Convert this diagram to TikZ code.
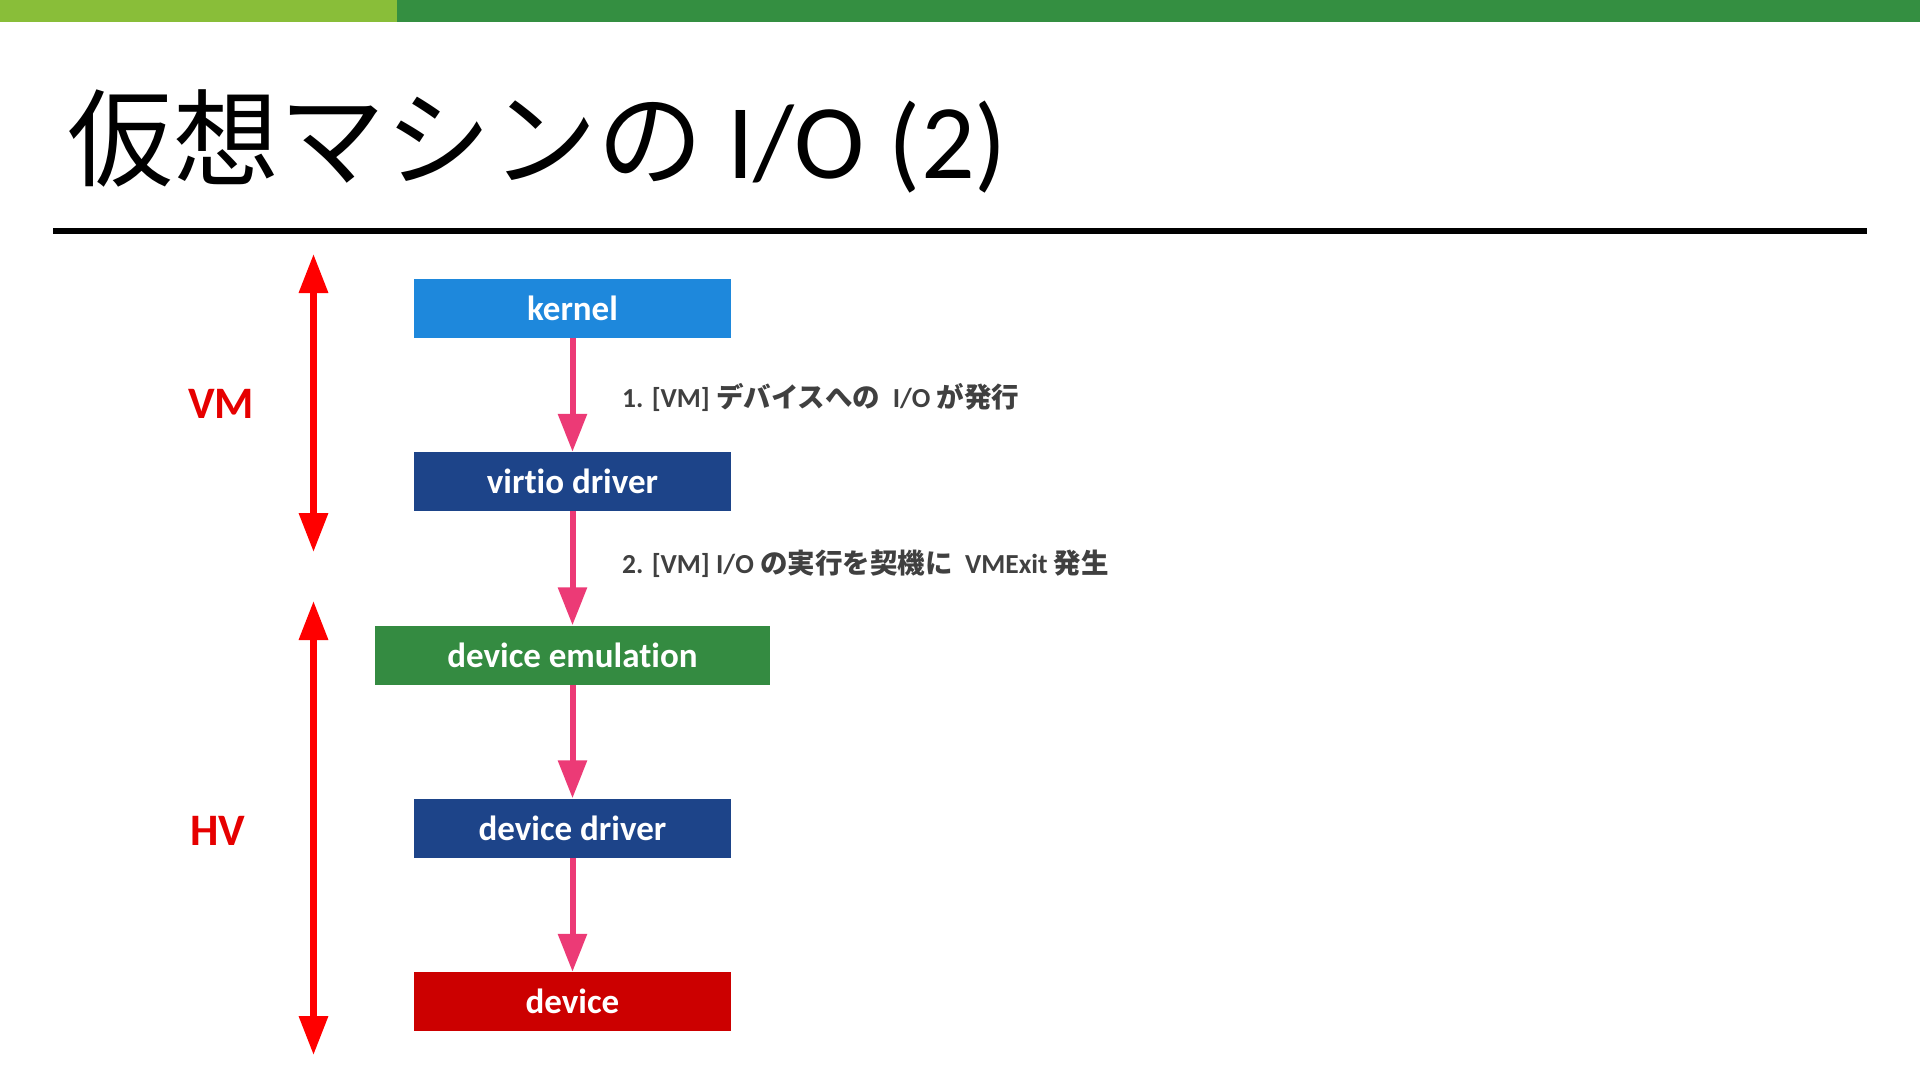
\documentclass[tikz,border=0pt]{standalone}
\usepackage{fontspec}
\setmainfont{Carlito}[Ligatures={NoCommon}]
\newfontfamily\cjk{Noto Sans CJK JP}
\usetikzlibrary{arrows.meta}
\definecolor{lgreen}{RGB}{137,190,57}
\definecolor{dgreen}{RGB}{52,143,65}
\definecolor{kblue}{RGB}{30,136,220}
\definecolor{dblue}{RGB}{29,68,137}
\definecolor{egreen}{RGB}{52,139,65}
\definecolor{dred}{RGB}{204,0,0}
\definecolor{pinkarr}{RGB}{236,58,118}
\definecolor{lblred}{RGB}{230,0,0}
\definecolor{stepgray}{RGB}{64,64,64}
\begin{document}
\begin{tikzpicture}[x=1pt,y=-1pt,
  boxnode/.style={minimum width=317pt, minimum height=59pt, inner sep=0pt, text=white,
    font=\fontsize{35}{40}\selectfont\bfseries},
  parrow/.style={pinkarr, line width=6pt, -{Triangle[length=38pt,width=28pt]}},
  rarrow/.style={red, line width=6.5pt, {Triangle[length=39pt,width=28pt]}-{Triangle[length=39pt,width=28pt]}},
  sidelabel/.style={anchor=base, inner sep=0pt, text=lblred, font=\fontsize{45}{50}\selectfont\bfseries},
  steplabel/.style={anchor=base west, inner sep=0pt, text=stepgray, font=\fontsize{27.5}{32}\selectfont\bfseries}]
\useasboundingbox (0,0) rectangle (1920,1081);
% header bar
\fill[lgreen] (0,0) rectangle (397,22);
\fill[dgreen] (397,0) rectangle (1920,22);
% title
\node[anchor=base west, inner sep=0pt, font=\fontsize{106}{120}\selectfont] (title) at (67,178)
  {{\cjk 仮想マシンの} I/O (2)};
\fill[black] (53,228) rectangle (1867,234);
% boxes
\node[boxnode, fill=kblue] (kernel) at (572.5,308.5) {kernel};
\node[boxnode, fill=dblue] (virtio) at (572.5,481.5) {virtio driver};
\node[boxnode, fill=egreen, minimum width=395pt] (emul) at (572.5,655) {device emulation};
\node[boxnode, fill=dblue] (ddrv) at (572.5,828) {device driver};
\node[boxnode, fill=dred] (dev) at (572.5,1001.5) {device};
% flow arrows
\draw[parrow] (kernel.south) -- (virtio.north);
\draw[parrow] (virtio.south) -- (emul.north);
\draw[parrow] (emul.south) -- (ddrv.north);
\draw[parrow] (ddrv.south) -- (dev.north);
% side ranges
\coordinate (vmtop) at (313.5,254);
\coordinate (vmbot) at (313.5,552);
\coordinate (hvtop) at (313.5,601);
\coordinate (hvbot) at (313.5,1055);
\draw[rarrow] (vmtop) -- (vmbot);
\draw[rarrow] (hvtop) -- (hvbot);
\node[sidelabel] (vm) at (221,418) {VM};
\node[sidelabel] (hv) at (217.5,845) {HV};
% step labels
\node[steplabel] (s1) at (622,407) {1. [VM] {\cjk デバイスへの}\ \ I/O {\cjk が発行}};
\node[steplabel] (s2) at (622,573) {2. [VM] I/O {\cjk の実行を契機に}\ \ VMExit {\cjk 発生}};
\end{tikzpicture}
\end{document}
